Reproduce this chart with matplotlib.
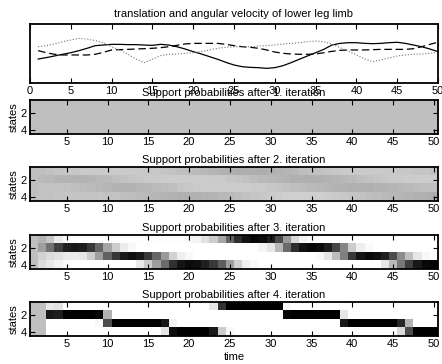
import numpy as np
import matplotlib
matplotlib.use('Agg')
import matplotlib.pyplot as plt

plt.rcParams['font.family'] = ['Liberation Sans', 'DejaVu Sans']
plt.rcParams['font.size'] = 8

# time axis
t = list(range(1, 51))

# top panel: three velocity traces
solid = [-0.56, -0.42, -0.25, -0.08, 0.08, 0.29, 0.53, 0.80, 0.86, 0.93,
         0.93, 0.90, 0.90, 0.86, 0.83, 0.93, 0.86, 0.69, 0.46, 0.19,
         -0.05, -0.32, -0.59, -0.90, -1.17, -1.34, -1.41, -1.44, -1.51, -1.44,
         -1.24, -0.93, -0.59, -0.25, 0.08, 0.42, 0.86, 1.03, 1.10, 1.10,
         1.03, 1.00, 1.03, 1.10, 1.14, 1.03, 0.86, 0.69, 0.46, 0.19]
dashed = [0.29, 0.08, -0.08, -0.15, -0.15, -0.15, -0.15, -0.08, 0.12, 0.36,
          0.39, 0.42, 0.46, 0.49, 0.53, 0.59, 0.69, 0.83, 0.97, 1.03,
          1.03, 1.03, 1.03, 0.93, 0.80, 0.69, 0.63, 0.53, 0.36, 0.15,
          0.02, -0.05, -0.08, -0.08, -0.05, 0.08, 0.22, 0.32, 0.36, 0.36,
          0.36, 0.39, 0.42, 0.42, 0.42, 0.42, 0.49, 0.69, 0.93, 1.14]
dotted = [0.69, 0.80, 0.97, 1.20, 1.37, 1.54, 1.47, 1.31, 1.10, 0.69,
          0.36, -0.08, -0.56, -0.93, -0.59, -0.22, -0.08, -0.05, 0.02, 0.08,
          0.19, 0.36, 0.53, 0.63, 0.69, 0.69, 0.69, 0.76, 0.80, 0.86,
          0.97, 1.03, 1.10, 1.20, 1.27, 1.20, 0.97, 0.59, 0.25, -0.15,
          -0.56, -0.83, -0.66, -0.46, -0.25, -0.15, -0.08, -0.05, 0.02, 0.12]

# support probabilities (percent), one list per state
it1_s1 = [25] * 50
it1_s2 = [25] * 50
it1_s3 = [25] * 50
it1_s4 = [25] * 50

it2_s1 = [25, 25, 24, 23, 22, 22, 21, 21, 21, 21, 21, 21, 21, 21, 22, 22, 23, 24, 25, 26,
          27, 28, 29, 30, 31, 32, 32, 32, 32, 31, 30, 29, 28, 26, 25, 24, 23, 22, 21, 21,
          21, 21, 21, 21, 21, 22, 22, 23, 23, 24]
it2_s2 = [25, 27, 28, 29, 30, 30, 30, 29, 28, 27, 25, 24, 23, 22, 21, 21, 20, 20, 20, 20,
          20, 20, 21, 21, 22, 23, 24, 26, 27, 28, 29, 30, 31, 31, 31, 31, 30, 29, 28, 27,
          25, 24, 23, 22, 21, 21, 20, 20, 20, 20]
it2_s3 = [25, 24, 24, 24, 24, 25, 26, 27, 28, 29, 30, 30, 30, 29, 28, 27, 26, 25, 23, 22,
          21, 20, 20, 20, 20, 20, 20, 21, 21, 22, 23, 24, 25, 26, 27, 28, 29, 30, 30, 31,
          31, 31, 30, 30, 29, 28, 27, 26, 25, 25]
it2_s4 = [25, 24, 24, 23, 23, 23, 23, 23, 23, 24, 24, 25, 26, 27, 28, 29, 30, 30, 31, 31,
          31, 30, 29, 28, 27, 26, 24, 23, 22, 21, 20, 19, 19, 19, 19, 19, 20, 21, 22, 23,
          24, 25, 26, 27, 28, 29, 30, 31, 31, 32]

it3_s1 = [25, 30, 22, 8, 3, 1, 1, 1, 1, 1, 1, 1, 1, 1, 1, 1, 1, 1, 1, 3,
          5, 12, 20, 35, 60, 82, 92, 97, 95, 88, 70, 40, 15, 5, 2, 0, 0, 0, 0, 0,
          0, 0, 0, 0, 0, 0, 0, 0, 0, 0]
it3_s2 = [25, 38, 55, 75, 87, 90, 88, 78, 60, 35, 20, 8, 3, 0, 0, 0, 0, 0, 0, 0,
          0, 0, 0, 0, 0, 0, 0, 0, 4, 10, 28, 58, 82, 93, 97, 95, 88, 72, 48, 20,
          7, 2, 0, 0, 0, 0, 0, 0, 0, 0]
it3_s3 = [25, 18, 14, 12, 8, 8, 10, 20, 38, 62, 78, 90, 94, 90, 78, 60, 40, 18, 7, 3,
          0, 0, 0, 0, 0, 0, 0, 0, 0, 0, 0, 0, 0, 0, 0, 3, 10, 26, 50, 78,
          92, 96, 93, 87, 70, 45, 25, 10, 3, 1]
it3_s4 = [25, 14, 9, 5, 2, 0, 0, 0, 0, 0, 0, 0, 0, 8, 20, 38, 58, 80, 92, 95,
          94, 87, 78, 63, 38, 18, 6, 2, 0, 0, 0, 0, 0, 0, 0, 0, 0, 0, 0, 0,
          0, 0, 0, 10, 28, 53, 75, 90, 96, 98]

it4_s1 = [25, 25, 10, 12, 0, 0, 0, 0, 0, 0, 0, 0, 0, 0, 0, 0, 0, 0, 0, 0,
          0, 0, 10, 80, 100, 100, 100, 100, 100, 100, 100, 3, 0, 0, 0, 0, 0, 0, 0, 0,
          0, 0, 0, 0, 0, 0, 0, 0, 0, 0]
it4_s2 = [25, 25, 90, 88, 100, 100, 100, 100, 97, 30, 0, 0, 0, 0, 0, 0, 0, 0, 0, 0,
          0, 0, 0, 0, 0, 0, 0, 0, 0, 0, 0, 97, 100, 100, 100, 100, 100, 100, 10, 0,
          0, 0, 0, 0, 0, 0, 0, 0, 0, 0]
it4_s3 = [25, 25, 0, 0, 0, 0, 0, 0, 3, 70, 100, 100, 100, 100, 100, 100, 90, 5, 0, 0,
          0, 0, 0, 0, 0, 0, 0, 0, 0, 0, 0, 0, 0, 0, 0, 0, 0, 0, 90, 100,
          100, 100, 100, 100, 100, 85, 30, 0, 0, 0]
it4_s4 = [25, 25, 0, 0, 0, 0, 0, 0, 0, 0, 0, 0, 0, 0, 0, 0, 10, 95, 100, 100,
          100, 100, 90, 20, 3, 0, 0, 0, 0, 0, 0, 0, 0, 0, 0, 0, 0, 0, 0, 0,
          0, 0, 0, 0, 0, 15, 70, 100, 100, 100]

iterations = [
    [it1_s1, it1_s2, it1_s3, it1_s4],
    [it2_s1, it2_s2, it2_s3, it2_s4],
    [it3_s1, it3_s2, it3_s3, it3_s4],
    [it4_s1, it4_s2, it4_s3, it4_s4],
]

W, H = 442, 364
fig = plt.figure(figsize=(W / 100, H / 100), dpi=100)


def px_axes(top, bottom, left=30, right=438):
    return fig.add_axes([left / W, (H - bottom) / H, (right - left) / W, (bottom - top) / H])


def style(ax):
    for s in ax.spines.values():
        s.set_linewidth(1.3)
    ax.tick_params(direction='in', length=3.5, width=0.8, top=True, right=True,
                   labelleft=True, labelright=False, labeltop=False,
                   pad=2.5, labelsize=8)


ax = px_axes(24, 83)
ax.plot(t, solid, 'k-', lw=0.9)
ax.plot(t, dashed, 'k--', lw=0.9, dashes=(6, 3))
ax.plot(t, dotted, color='0.45', ls=':', lw=0.8)
ax.set_xlim(0, 50)
ax.set_ylim(-3, 3)
ax.set_xticks(range(0, 51, 5))
ax.set_yticks([])
style(ax)
ax.set_title('translation and angular velocity of lower leg limb', fontsize=8, pad=5)

tops = [100, 167, 235, 302]
for k, (top, rows) in enumerate(zip(tops, iterations)):
    a = px_axes(top, top + 34)
    img = np.array(rows) / 100.0
    a.imshow(img, cmap='gray_r', vmin=0, vmax=1, aspect='auto',
             interpolation='nearest', extent=(0.5, 50.5, 4.5, 0.5))
    a.set_xlim(0.5, 50.5)
    a.set_ylim(4.5, 0.5)
    a.set_xticks(range(5, 51, 5))
    a.set_yticks([2, 4])
    a.set_ylabel('states', fontsize=8, labelpad=1)
    style(a)
    a.set_title('Support probabilities after %d. iteration' % (k + 1), fontsize=8, pad=3)
    if k == 3:
        a.set_xlabel('time', fontsize=8, labelpad=1.5)

plt.savefig('out.png', dpi=100)
